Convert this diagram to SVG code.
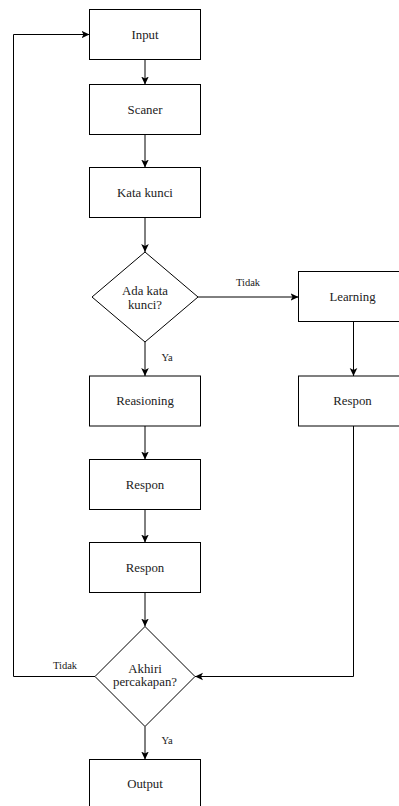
<svg xmlns="http://www.w3.org/2000/svg" width="399" height="806" viewBox="0 0 399 806" font-family="Liberation Serif, Times New Roman, DejaVu Serif, serif">
<style>
.box{fill:#fff;stroke:#000;stroke-width:1}
.t{font-size:12.8px;fill:#222;text-anchor:middle;dominant-baseline:central}
.lbl{font-size:10.5px;fill:#222;text-anchor:middle;dominant-baseline:central}
.c{fill:none;stroke:#000;stroke-width:1}
</style>
<defs>
<marker id="arr" markerUnits="userSpaceOnUse" markerWidth="10" markerHeight="10" viewBox="0 0 10 10" refX="8" refY="5" orient="auto">
<path d="M0,1.2 L8,5 L0,8.8 L2,5 Z" fill="#000"/>
</marker>
</defs>
<rect width="399" height="806" fill="#fff"/>
<g id="connectors">
<path class="c" d="M145,59.5 V84.5" marker-end="url(#arr)"/>
<path class="c" d="M145,134.5 V167.5" marker-end="url(#arr)"/>
<path class="c" d="M145,217.5 V252" marker-end="url(#arr)"/>
<path class="c" d="M145,342 V376" marker-end="url(#arr)"/>
<path class="c" d="M198,297 H298.5" marker-end="url(#arr)"/>
<path class="c" d="M353.5,321.5 V376" marker-end="url(#arr)"/>
<path class="c" d="M145,426 V459.5" marker-end="url(#arr)"/>
<path class="c" d="M145,509.5 V542.5" marker-end="url(#arr)"/>
<path class="c" d="M145,592.5 V626.5" marker-end="url(#arr)"/>
<path class="c" d="M353.5,426 V676.5 H195" marker-end="url(#arr)"/>
<path class="c" d="M95,676.5 H13.5 V34.5 H89.5" marker-end="url(#arr)"/>
<path class="c" d="M145,726.5 V759.5" marker-end="url(#arr)"/>
<text class="lbl" x="248" y="282">Tidak</text>
<text class="lbl" x="167" y="357">Ya</text>
<text class="lbl" x="65" y="665">Tidak</text>
<text class="lbl" x="167" y="740">Ya</text>
</g>
<g id="input"><rect class="box" x="89.5" y="9.5" width="111" height="50"/><text class="t" x="145" y="34.5">Input</text></g>
<g id="scaner"><rect class="box" x="89.5" y="84.5" width="111" height="50"/><text class="t" x="145" y="109.5">Scaner</text></g>
<g id="kata-kunci"><rect class="box" x="89.5" y="167.5" width="111" height="50"/><text class="t" x="145" y="192.5">Kata kunci</text></g>
<g id="ada-kata-kunci"><polygon class="box" points="145,252 198,297 145,342 92,297"/><text class="t" x="145" y="291">Ada kata</text><text class="t" x="145" y="304.5">kunci?</text></g>
<g id="learning"><rect class="box" x="298.5" y="271.5" width="110" height="50"/><text class="t" x="352.5" y="296.5">Learning</text></g>
<g id="reasioning"><rect class="box" x="89.5" y="376" width="111" height="50"/><text class="t" x="145" y="401">Reasioning</text></g>
<g id="respon-right"><rect class="box" x="298.5" y="376" width="110" height="50"/><text class="t" x="352.5" y="401">Respon</text></g>
<g id="respon-1"><rect class="box" x="89.5" y="459.5" width="111" height="50"/><text class="t" x="145" y="484.5">Respon</text></g>
<g id="respon-2"><rect class="box" x="89.5" y="542.5" width="111" height="50"/><text class="t" x="145" y="567.5">Respon</text></g>
<g id="akhiri"><polygon class="box" points="145,626.5 195,676.5 145,726.5 95,676.5"/><text class="t" x="145" y="669">Akhiri</text><text class="t" x="145" y="682">percakapan?</text></g>
<g id="output"><rect class="box" x="89.5" y="759.5" width="111" height="50"/><text class="t" x="145" y="784">Output</text></g>
</svg>
